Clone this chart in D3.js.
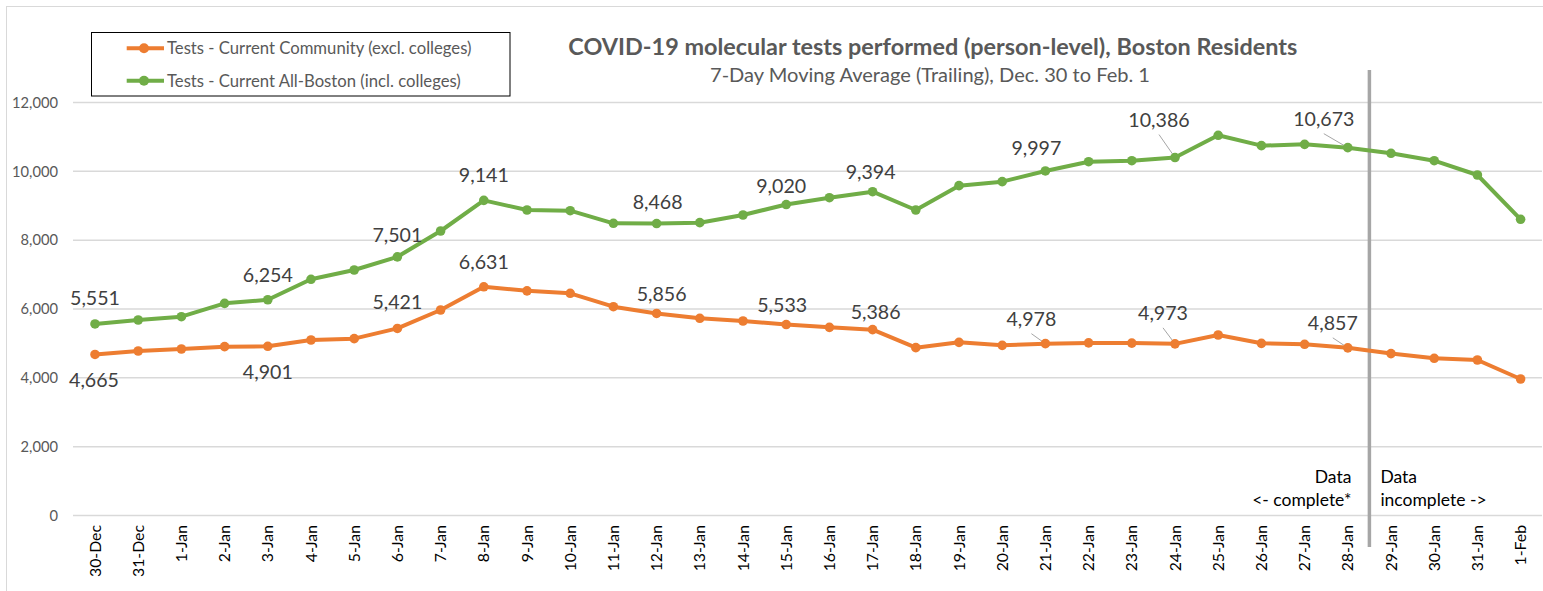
<!DOCTYPE html>
<html>
<head>
<meta charset="utf-8">
<script src="https://cdn.jsdelivr.net/npm/d3@7"></script>
<style>
    body { margin: 0; background: #fff; }
    text { font-family: Lato, "Open Sans", sans-serif; }
</style>
</head>
<body>
<svg id="chart" width="1543" height="591"></svg>
<script>
var dates = ["30-Dec", "31-Dec", "1-Jan", "2-Jan", "3-Jan", "4-Jan", "5-Jan", "6-Jan", "7-Jan", "8-Jan",
    "9-Jan", "10-Jan", "11-Jan", "12-Jan", "13-Jan", "14-Jan", "15-Jan", "16-Jan", "17-Jan", "18-Jan",
    "19-Jan", "20-Jan", "21-Jan", "22-Jan", "23-Jan", "24-Jan", "25-Jan", "26-Jan", "27-Jan", "28-Jan",
    "29-Jan", "30-Jan", "31-Jan", "1-Feb"];

var communityTests = [4665, 4765, 4823, 4891, 4901, 5085, 5124, 5421, 5956, 6631,
    6513, 6441, 6053, 5856, 5715, 5637, 5533, 5453, 5386, 4862,
    5017, 4930, 4978, 5001, 4995, 4973, 5230, 4988, 4960, 4857,
    4690, 4553, 4504, 3952];

var allBostonTests = [5551, 5666, 5762, 6150, 6254, 6848, 7119, 7501, 8252, 9141,
    8862, 8842, 8475, 8468, 8494, 8717, 9020, 9220, 9394, 8862,
    9569, 9685, 9997, 10266, 10295, 10386, 11032, 10731, 10770, 10673,
    10509, 10295, 9879, 8592];

var yTicks = [0, 2000, 4000, 6000, 8000, 10000, 12000];
var seriesNames = ["Tests - Current Community (excl. colleges)", "Tests - Current All-Boston (incl. colleges)"];
var labelledDays = [0, 4, 7, 9, 13, 16, 18, 22, 25, 29];
var cutoffDay = "29-Jan";

var chartTitle = "COVID-19 molecular tests performed (person-level), Boston Residents";
var chartSubtitle = "7-Day Moving Average (Trailing), Dec. 30 to Feb. 1";

// label nudges (dx, dy from the point), leader = draw a thin line back to the point
var communityLabelPos = {
    0: [-1, 33], 4: [0, 33], 7: [0, -19], 9: [0, -18], 13: [5, -12], 16: [-4, -13], 18: [3, -11],
    22: [-14, -18, true], 25: [-12, -24, true], 29: [-15, -18, true]
};
var allBostonLabelPos = {
    0: [0, -19], 4: [0, -18], 7: [0, -15], 9: [0, -18], 13: [1, -15], 16: [-5, -12], 18: [-2, -13],
    22: [-9, -16], 25: [-16, -31, true], 29: [-24, -22, true]
};

var orange = "#ED7D31", green = "#70AD47";

var svg = d3.select("#chart");

// outer chart frame
svg.append("rect")
    .attr("x", 6.5).attr("y", 6.5)
    .attr("width", 1600).attr("height", 700)
    .attr("fill", "none").attr("stroke", "#d9d9d9");

var xScale = d3.scaleBand()
    .domain(dates)
    .range([73.4, 1542.2]);

var yScale = d3.scaleLinear()
    .domain([0, 12000])
    .range([515, 102]);

function cx(d) { return xScale(d) + xScale.bandwidth() / 2; }

// gridlines + y labels
var yAxis = d3.axisLeft(yScale)
    .tickValues(yTicks)
    .tickSize(-(1542 - 73))
    .tickFormat(d3.format(","))
    .tickPadding(15);

var yg = svg.append("g")
    .attr("class", "axis y-axis")
    .attr("transform", "translate(73,0)")
    .call(yAxis);
yg.select(".domain").remove();
yg.selectAll(".tick line").attr("stroke", "#d9d9d9").attr("stroke-width", 1.5);
yg.selectAll(".tick text")
    .attr("fill", "#595959")
    .style("font-size", "14.7px")
    .style("font-family", "Lato, sans-serif")
    .attr("dy", "0.36em");

// x labels
var xAxis = d3.axisBottom(xScale).tickSize(0);
var xg = svg.append("g")
    .attr("class", "axis x-axis")
    .attr("transform", "translate(0,525)")
    .call(xAxis);
xg.select(".domain").remove();
xg.selectAll(".tick text")
    .attr("fill", "#000")
    .style("font-size", "15.8px")
    .style("font-family", "Lato, sans-serif")
    .attr("text-anchor", "end")
    .attr("transform", "rotate(-90)")
    .attr("x", 0)
    .attr("y", 0)
    .attr("dy", "0.35em");

// separator between complete / incomplete data
var cutX = xScale(cutoffDay);
svg.append("line")
    .attr("x1", cutX).attr("x2", cutX)
    .attr("y1", 70).attr("y2", 547)
    .attr("stroke", "#a6a6a6").attr("stroke-width", 3.5);

svg.append("text")
    .attr("x", cutX - 18).attr("y", 483)
    .attr("text-anchor", "end")
    .style("font-size", "17.5px")
    .attr("fill", "#000")
    .selectAll("tspan")
    .data(["Data", "<- complete*"])
    .enter().append("tspan")
    .attr("x", cutX - 18)
    .attr("dy", function (d, i) { return i == 0 ? 0 : 23; })
    .text(function (d) { return d; });

svg.append("text")
    .attr("x", cutX + 11).attr("y", 483)
    .style("font-size", "17.5px")
    .attr("fill", "#000")
    .selectAll("tspan")
    .data(["Data", "incomplete ->"])
    .enter().append("tspan")
    .attr("x", cutX + 11)
    .attr("dy", function (d, i) { return i == 0 ? 0 : 23; })
    .text(function (d) { return d; });

// series
var series = [
    { name: seriesNames[0], values: communityTests, color: orange, pos: communityLabelPos },
    { name: seriesNames[1], values: allBostonTests, color: green, pos: allBostonLabelPos }
];

var line = d3.line()
    .x(function (d, i) { return cx(dates[i]); })
    .y(function (d) { return yScale(d); });

series.forEach(function (s) {
    // leader lines first so markers sit on top
    labelledDays.forEach(function (i) {
        var p = s.pos[i];
        if (p && p[2]) {
            svg.append("line")
                .attr("x1", cx(dates[i]) + p[0]).attr("y1", yScale(s.values[i]) + p[1] + 8)
                .attr("x2", cx(dates[i])).attr("y2", yScale(s.values[i]))
                .attr("stroke", "#a6a6a6").attr("stroke-width", 1);
        }
    });

    svg.append("path")
        .datum(s.values)
        .attr("d", line)
        .attr("fill", "none")
        .attr("stroke", s.color)
        .attr("stroke-width", 4)
        .attr("stroke-linejoin", "round");

    svg.append("g").selectAll("circle")
        .data(s.values)
        .enter()
        .append("circle")
        .attr("cx", function (d, i) { return cx(dates[i]); })
        .attr("cy", function (d) { return yScale(d); })
        .attr("r", 4.8)
        .attr("fill", s.color);

    svg.append("g").selectAll("text")
        .data(labelledDays)
        .enter()
        .append("text")
        .attr("x", function (i) { return cx(dates[i]) + s.pos[i][0]; })
        .attr("y", function (i) { return yScale(s.values[i]) + s.pos[i][1]; })
        .attr("text-anchor", "middle")
        .attr("fill", "#404040")
        .style("font-size", "19.6px")
        .text(function (i) { return d3.format(",")(s.values[i]); });
});

// title
svg.append("text")
    .attr("x", 932.8).attr("y", 55)
    .attr("text-anchor", "middle")
    .attr("fill", "#595959")
    .style("font-size", "22px")
    .style("font-weight", "bold")
    .attr("textLength", 729)
    .attr("lengthAdjust", "spacingAndGlyphs")
    .text(chartTitle);

svg.append("text")
    .attr("x", 930).attr("y", 82)
    .attr("text-anchor", "middle")
    .attr("fill", "#595959")
    .style("font-size", "18.5px")
    .attr("textLength", 440)
    .attr("lengthAdjust", "spacingAndGlyphs")
    .text(chartSubtitle);

// legend
var legend = svg.append("g").attr("class", "legend");
legend.append("rect")
    .attr("x", 91.5).attr("y", 32.5)
    .attr("width", 418.5).attr("height", 63.5)
    .attr("fill", "#fff").attr("stroke", "#000").attr("stroke-width", 1);

var rows = legend.selectAll("g.row")
    .data(series)
    .enter().append("g")
    .attr("class", "row")
    .attr("transform", function (d, i) { return "translate(0," + (48.3 + i * 32.4) + ")"; });

rows.append("line")
    .attr("x1", 126.7).attr("x2", 164)
    .attr("stroke", function (d) { return d.color; })
    .attr("stroke-width", 4);
rows.append("circle")
    .attr("cx", 144).attr("r", 5)
    .attr("fill", function (d) { return d.color; });
rows.append("text")
    .attr("x", 167).attr("y", 6)
    .attr("fill", "#595959")
    .style("font-size", "16.7px")
    .text(function (d) { return d.name; });
</script>
</body>
</html>
